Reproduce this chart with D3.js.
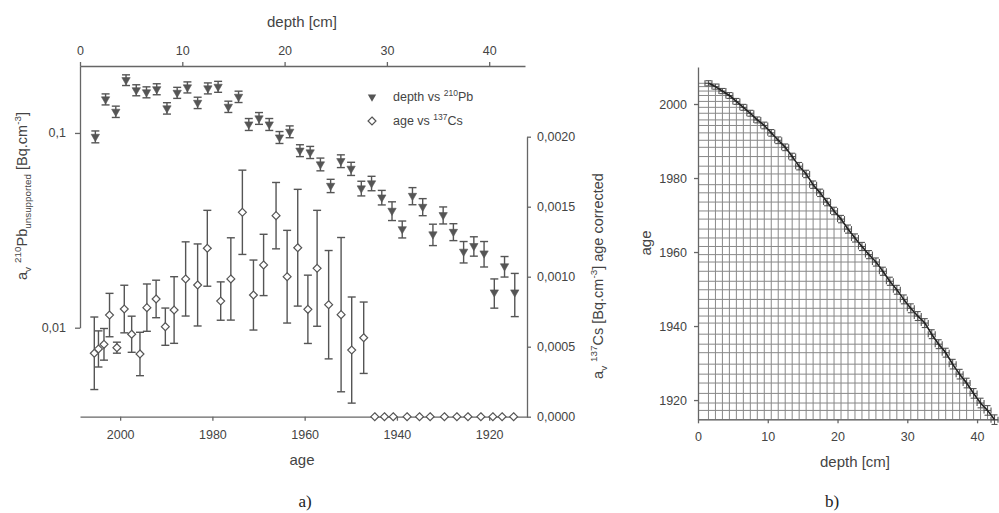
<!DOCTYPE html>
<html><head><meta charset="utf-8">
<script src="https://cdn.jsdelivr.net/npm/d3@7"></script>
<style>body{margin:0;background:#fff}svg{display:block}</style>
</head><body>
<svg id="c" width="999" height="513"></svg>
<script>
// ---------- data ----------
const depths = [1.5,2.5,3.5,4.5,5.5,6.5,7.5,8.5,9.5,10.5,11.5,12.5,13.5,14.5,15.5,16.5,17.5,18.5,19.5,20.5,21.5,22.5,23.5,24.5,25.5,26.5,27.5,28.5,29.5,30.5,31.5,32.5,33.5,34.5,35.5,36.5,37.5,38.5,39.5,40.5,41.5,42.5];
const pb210 = [0.0957,0.149,0.1287,0.187,0.166,0.162,0.168,0.134,0.161,0.1717,0.143,0.1697,0.1729,0.1365,0.1536,0.1108,0.119,0.1108,0.095,0.1016,0.0813,0.0796,0.0691,0.0536,0.0718,0.0656,0.052,0.0552,0.0467,0.0399,0.0321,0.0476,0.0418,0.0302,0.0379,0.0311,0.0246,0.0263,0.0241,0.0152,0.0207,0.0152];
const pb210Err = [0.0067,0.0097,0.0086,0.0118,0.0108,0.0105,0.0109,0.009,0.0105,0.0112,0.0096,0.011,0.0112,0.0091,0.0103,0.0078,0.0083,0.0078,0.0067,0.0071,0.0057,0.0057,0.0052,0.0042,0.0054,0.0051,0.0045,0.0047,0.004,0.0044,0.0032,0.0048,0.0042,0.0038,0.0038,0.0031,0.0031,0.003,0.0036,0.0026,0.0025,0.0038];
const ages = [2005.6,2004.7,2003.5,2002.3,2000.7,1999.1,1997.5,1995.7,1994.2,1992.2,1990.2,1988.3,1985.8,1983.2,1981.1,1978.2,1976.0,1973.5,1971.1,1968.9,1966.2,1963.8,1961.5,1959.3,1957.3,1954.8,1952.1,1949.8,1947.2,1944.8,1942.7,1940.8,1937.8,1935.1,1932.8,1929.7,1927.0,1924.6,1921.8,1919.2,1917.2,1914.7];
const cs137 = [0.000453,0.000484,0.000517,0.000726,0.000493,0.000769,0.000589,0.000448,0.000779,0.000841,0.000643,0.000762,0.000984,0.000941,0.001203,0.000826,0.000984,0.00146,0.000869,0.001084,0.001436,0.001,0.001207,0.000767,0.00106,0.0008,0.000729,0.000476,0.000564,0,0,0,0,0,0,0,0,0,0,0,0,0];
const cs137Err = [0.000259,0.000129,0.000113,0.000155,0.0000393,0.00017,0.000129,0.000155,0.000169,0.000134,0.000133,0.000238,0.000265,0.000293,0.000271,0.000137,0.000294,0.000301,0.00025,0.000219,0.000237,0.000331,0.000417,0.000244,0.000414,0.000387,0.000551,0.000379,0.000255,0,0,0,0,0,0,0,0,0,0,0,0,0];
const ageErr = [0.7,0.7,0.7,0.8,0.8,0.8,0.8,0.8,0.9,0.9,0.9,0.9,0.9,1.0,1.0,1.0,1.0,1.0,1.0,1.0,1.1,1.1,1.1,1.1,1.1,1.1,1.1,1.2,1.2,1.2,1.2,1.2,1.2,1.2,1.2,1.3,1.3,1.3,1.3,1.3,1.3,1.3];
const depthErr = 0.5;
const depthTicks = [0,10,20,30,40];
const ageTicksA = [2000,1980,1960,1940,1920];
const pbTicks = [0.01,0.1];
const pbTickLabels = ["0,01","0,1"];
const csTicks = [0,0.0005,0.001,0.0015,0.002];
const csTickLabels = ["0,0000","0,0005","0,0010","0,0015","0,0020"];
const ageTicksB = [1920,1940,1960,1980,2000];
const depthTicksB = [0,10,20,30,40];

// ---------- setup ----------
const svg = d3.select("#c");
const FONT = "'Liberation Sans', Arial, sans-serif";
const TXT = "#444", AX = "#666", MK = "#555";

function styleAxis(g){
  g.selectAll("path,line").attr("stroke",AX).attr("stroke-width",1.3);
  g.selectAll("text").attr("fill",TXT).attr("font-family",FONT).attr("font-size",12.5);
}
// rich text helper: segments [text, mode] mode: 0 normal, 1 sup, -1 sub
function rich(sel, segs, size){
  const small = size*0.68;
  let cur = 0;
  segs.forEach(([t,m])=>{
    const target = m===1 ? -size*0.42 : (m===-1 ? size*0.28 : 0);
    sel.append("tspan").attr("dy", target-cur).attr("font-size", m===0?size:small).text(t);
    cur = target;
  });
}

// ---------- panel a ----------
const xDepth = d3.scaleLinear().domain([0,43.5]).range([80,525]);
const xAge = d3.scaleLinear().domain([2008.7,1911.8]).range([80,527]);
const yPb = d3.scaleLog().domain([0.01,0.2215]).range([327.7,65.7]);
const yCs = d3.scaleLinear().domain([0,0.002]).range([416.7,136.7]);

svg.append("g").attr("transform","translate(0,66)")
  .call(d3.axisTop(xDepth).tickValues(depthTicks).tickSize(4).tickPadding(7).tickSizeOuter(0))
  .call(styleAxis);
svg.append("g").attr("transform","translate(0,416.7)")
  .call(d3.axisBottom(xAge).tickValues(ageTicksA).tickFormat(d3.format("d")).tickSize(4).tickPadding(9).tickSizeOuter(0))
  .call(styleAxis);
svg.append("g").attr("transform","translate(80,0)")
  .call(d3.axisLeft(yPb).tickValues(pbTicks).tickFormat((d,i)=>pbTickLabels[i]).tickSize(5).tickPadding(9).tickSizeOuter(0))
  .call(styleAxis);
svg.append("g").attr("transform","translate(527,0)")
  .call(d3.axisRight(yCs).tickValues(csTicks).tickFormat((d,i)=>csTickLabels[i]).tickSize(4).tickPadding(6).tickSizeOuter(0))
  .call(styleAxis);

// Cs error bars
const cap = 4;
const csData = ages.map((a,i)=>({a, v:cs137[i], e:cs137Err[i]}));
const gCs = svg.append("g").attr("stroke",MK).attr("stroke-width",1.4).attr("fill","none");
csData.filter(d=>d.e>0).forEach(d=>{
  const x = xAge(d.a), y1 = yCs(d.v+d.e), y2 = yCs(d.v-d.e);
  gCs.append("line").attr("x1",x).attr("x2",x).attr("y1",y1).attr("y2",y2);
  gCs.append("line").attr("x1",x-cap).attr("x2",x+cap).attr("y1",y1).attr("y2",y1);
  gCs.append("line").attr("x1",x-cap).attr("x2",x+cap).attr("y1",y2).attr("y2",y2);
});
const diamond = d3.symbol().type(d3.symbolDiamond2).size(40);
svg.append("g").selectAll("path").data(csData).join("path")
  .attr("d",diamond).attr("transform",d=>`translate(${xAge(d.a)},${yCs(d.v)})`)
  .attr("fill","#fff").attr("stroke",MK).attr("stroke-width",1.2);

// Pb error bars
const pbData = depths.map((d,i)=>({d, v:pb210[i], e:pb210Err[i]}));
const gPb = svg.append("g").attr("stroke",MK).attr("stroke-width",1.4).attr("fill","none");
pbData.forEach(d=>{
  const x = xDepth(d.d), y1 = yPb(d.v+d.e), y2 = yPb(d.v-d.e);
  gPb.append("line").attr("x1",x).attr("x2",x).attr("y1",y1).attr("y2",y2);
  gPb.append("line").attr("x1",x-cap).attr("x2",x+cap).attr("y1",y1).attr("y2",y1);
  gPb.append("line").attr("x1",x-cap).attr("x2",x+cap).attr("y1",y2).attr("y2",y2);
});
const tri = d3.symbol().type(d3.symbolTriangle).size(30);
svg.append("g").selectAll("path").data(pbData).join("path")
  .attr("d",tri).attr("transform",d=>`translate(${xDepth(d.d)},${yPb(d.v)}) rotate(180)`)
  .attr("fill",MK).attr("stroke",MK).attr("stroke-width",0.6);

// legend
svg.append("path").attr("d",tri).attr("transform","translate(372,97) rotate(180)").attr("fill",MK);
svg.append("path").attr("d",diamond).attr("transform","translate(372,121)").attr("fill","#fff").attr("stroke",MK).attr("stroke-width",1.2);
rich(svg.append("text").attr("x",393).attr("y",101).attr("fill",TXT).attr("font-family",FONT),
  [["depth vs ",0],["210",1],["Pb",0]],12.5);
rich(svg.append("text").attr("x",393).attr("y",125).attr("fill",TXT).attr("font-family",FONT),
  [["age vs ",0],["137",1],["Cs",0]],12.5);

// titles a
svg.append("text").attr("x",302).attr("y",27).attr("text-anchor","middle").attr("fill",TXT)
  .attr("font-family",FONT).attr("font-size",15).text("depth [cm]");
svg.append("text").attr("x",302).attr("y",465).attr("text-anchor","middle").attr("fill",TXT)
  .attr("font-family",FONT).attr("font-size",15).text("age");
rich(svg.append("text").attr("transform","translate(27,196) rotate(-90)").attr("text-anchor","middle")
  .attr("fill",TXT).attr("font-family",FONT),
  [["a",0],["v",-1],[" ",0],["210",1],["Pb",0],["unsupported",-1],[" [Bq.cm",0],["-3",1],["]",0]],14.5);
rich(svg.append("text").attr("transform","translate(603,276) rotate(-90)").attr("text-anchor","middle")
  .attr("fill",TXT).attr("font-family",FONT),
  [["a",0],["v",-1],[" ",0],["137",1],["Cs [Bq.cm",0],["-3",1],["] age corrected",0]],14.5);
svg.append("text").attr("x",305).attr("y",507).attr("text-anchor","middle").attr("fill","#222")
  .attr("font-family","'Liberation Serif', 'Times New Roman', serif").attr("font-size",17).text("a)");

// ---------- panel b ----------
const xB = d3.scaleLinear().domain([0,43]).range([698,998]);
const yB = d3.scaleLinear().domain([1914.8,2010]).range([419.3,67]);
const bData = depths.map((d,i)=>({d, a:ages[i], e:ageErr[i]}));

// drop lines
const gDrop = svg.append("g").attr("stroke","#888").attr("stroke-width",1);
bData.forEach(p=>{
  gDrop.append("line").attr("x1",xB(p.d)).attr("x2",xB(p.d)).attr("y1",yB(p.a)).attr("y2",yB.range()[0]);
  gDrop.append("line").attr("x1",xB(0)).attr("x2",xB(p.d)).attr("y1",yB(p.a)).attr("y2",yB(p.a));
});
svg.append("g").attr("transform","translate(0,419.3)")
  .call(d3.axisBottom(xB).tickValues(depthTicksB).tickSize(4).tickPadding(9).tickSizeOuter(0))
  .call(styleAxis);
svg.append("g").attr("transform","translate(698,0)")
  .call(d3.axisLeft(yB).tickValues(ageTicksB).tickFormat(d3.format("d")).tickSize(4).tickPadding(7).tickSizeOuter(0))
  .call(styleAxis);

// error bars b
const gEb = svg.append("g").attr("stroke","#555").attr("stroke-width",1.1);
bData.forEach(p=>{
  const x = xB(p.d), y = yB(p.a);
  const xl = xB(p.d-depthErr), xr = xB(p.d+depthErr), yt = yB(p.a+p.e), yb = yB(p.a-p.e);
  gEb.append("line").attr("x1",xl).attr("x2",xr).attr("y1",y).attr("y2",y);
  gEb.append("line").attr("x1",xl).attr("x2",xl).attr("y1",y-3).attr("y2",y+3);
  gEb.append("line").attr("x1",xr).attr("x2",xr).attr("y1",y-3).attr("y2",y+3);
  gEb.append("line").attr("x1",x).attr("x2",x).attr("y1",yt).attr("y2",yb);
  gEb.append("line").attr("x1",x-3).attr("x2",x+3).attr("y1",yt).attr("y2",yt);
  gEb.append("line").attr("x1",x-3).attr("x2",x+3).attr("y1",yb).attr("y2",yb);
});
svg.append("path").datum(bData)
  .attr("d",d3.line().x(p=>xB(p.d)).y(p=>yB(p.a)).curve(d3.curveMonotoneX))
  .attr("fill","none").attr("stroke","#222").attr("stroke-width",1.6);

svg.append("text").attr("x",855).attr("y",467).attr("text-anchor","middle").attr("fill",TXT)
  .attr("font-family",FONT).attr("font-size",15).text("depth [cm]");
svg.append("text").attr("transform","translate(651,243) rotate(-90)").attr("text-anchor","middle").attr("fill",TXT)
  .attr("font-family",FONT).attr("font-size",15).text("age");
svg.append("text").attr("x",832).attr("y",507).attr("text-anchor","middle").attr("fill","#222")
  .attr("font-family","'Liberation Serif', 'Times New Roman', serif").attr("font-size",17).text("b)");
</script>
</body></html>
